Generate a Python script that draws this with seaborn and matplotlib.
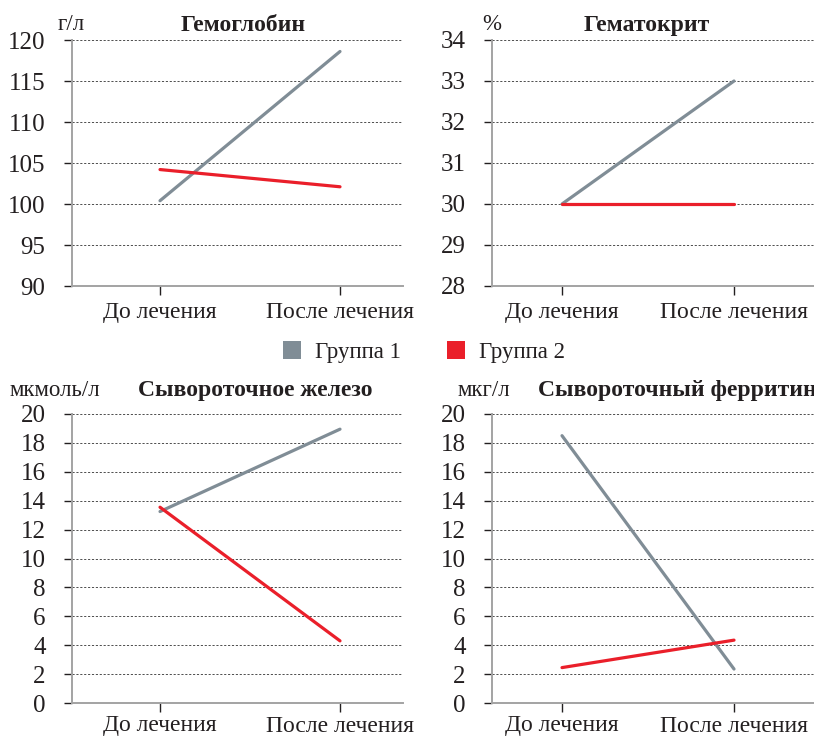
import matplotlib
matplotlib.use("Agg")
import matplotlib.pyplot as plt
from matplotlib.patches import Patch
import pandas as pd
import seaborn as sns

# ---------------------------------------------------------------------------
# Data
# ---------------------------------------------------------------------------
stages = ["До лечения", "После лечения"]
groups = ["Группа 1", "Группа 2"]

hemoglobin_g1 = [100.4, 118.6]
hemoglobin_g2 = [104.2, 102.1]
hematocrit_g1 = [30.0, 33.0]
hematocrit_g2 = [30.0, 30.0]
iron_g1 = [13.25, 18.95]
iron_g2 = [13.55, 4.3]
ferritin_g1 = [18.5, 2.35]
ferritin_g2 = [2.45, 4.35]

hemoglobin_ticks = [90, 95, 100, 105, 110, 115, 120]
hematocrit_ticks = [28, 29, 30, 31, 32, 33, 34]
iron_ticks = [0, 2, 4, 6, 8, 10, 12, 14, 16, 18, 20]
ferritin_ticks = [0, 2, 4, 6, 8, 10, 12, 14, 16, 18, 20]

colors = {"Группа 1": "#808d96", "Группа 2": "#ea1f2a"}
TEXT = "#231f20"


def make_frame(g1, g2):
    rows = []
    for grp, vals in zip(groups, [g1, g2]):
        for st, v in zip(stages, vals):
            rows.append({"stage": st, "group": grp, "value": v})
    return pd.DataFrame(rows)


sns.set_theme(style="white")
plt.rcParams["font.family"] = ["Liberation Serif", "DejaVu Serif"]

fig = plt.figure(figsize=(8.14, 7.38), dpi=100)

W, H = 814.0, 738.0


def px_axes(x0, y0, x1, y1):
    # pixel box (from top-left) -> figure fraction
    return fig.add_axes([x0 / W, 1 - y1 / H, (x1 - x0) / W, (y1 - y0) / H])


def px_text(x, y, s, **kw):
    fig.text(x / W, 1 - y / H, s, va="baseline", color=TEXT, **kw)


panels = [
    # axes box, data, ticks, xlim, x label pad
    ((72, 40, 403, 286), (hemoglobin_g1, hemoglobin_g2), hemoglobin_ticks, (-0.489, 1.35), 5),
    ((492, 40, 814, 286), (hematocrit_g1, hematocrit_g2), hematocrit_ticks, (-0.407, 1.465), 5),
    ((72, 414, 403, 703), (iron_g1, iron_g2), iron_ticks, (-0.489, 1.35), 2.5),
    ((492, 414, 814, 703), (ferritin_g1, ferritin_g2), ferritin_ticks, (-0.407, 1.465), 2.5),
]

for box, (g1, g2), ticks, xlim, xpad in panels:
    ax = px_axes(*box)
    df = make_frame(g1, g2)
    sns.lineplot(data=df, x="stage", y="value", hue="group", palette=colors,
                 linewidth=2.3, ax=ax, legend=False, sort=False)
    ax.set_xlim(*xlim)
    ax.set_ylim(ticks[0], ticks[-1])
    ax.set_yticks(ticks)
    ax.set_xlabel("")
    ax.set_ylabel("")
    for t in ticks[1:]:
        ax.axhline(t, color="#4d4d4d", linestyle=(0, (2.2, 1.8)), linewidth=0.7, zorder=0)
    for side in ["top", "right"]:
        ax.spines[side].set_visible(False)
    for side in ["left", "bottom"]:
        ax.spines[side].set_color("#a3a3a3")
        ax.spines[side].set_linewidth(1.4)
    ax.tick_params(axis="y", left=True, length=6, width=1, color=TEXT,
                   labelsize=18, labelcolor=TEXT, pad=13)
    ax.tick_params(axis="x", bottom=True, length=6.5, width=1, color=TEXT,
                   labelsize=17, labelcolor=TEXT, pad=xpad)

# titles and units (pixel positions, baseline)
px_text(243, 31, "Гемоглобин", ha="center", fontsize=17, fontweight="bold")
px_text(647, 31, "Гематокрит", ha="center", fontsize=17, fontweight="bold")
px_text(138, 396, "Сывороточное железо", ha="left", fontsize=17, fontweight="bold")
px_text(538, 396, "Сывороточный ферритин", ha="left", fontsize=17, fontweight="bold")
px_text(58, 30, "г/л", ha="left", fontsize=16.5)
px_text(482, 30, "%", ha="left", fontsize=16.5)
px_text(10, 396, "мкмоль/л", ha="left", fontsize=16.5)
px_text(458, 396, "мкг/л", ha="left", fontsize=16.5)

handles = [Patch(facecolor=colors[g], edgecolor="none", label=g) for g in groups]
fig.legend(handles=handles, loc="center", bbox_to_anchor=(424 / W, 1 - 352 / H),
           ncol=2, frameon=False, fontsize=16.5, handlelength=0.8, handleheight=0.8,
           handletextpad=0.6, columnspacing=2.0, labelcolor=TEXT)

fig.savefig("out.png", dpi=100)
